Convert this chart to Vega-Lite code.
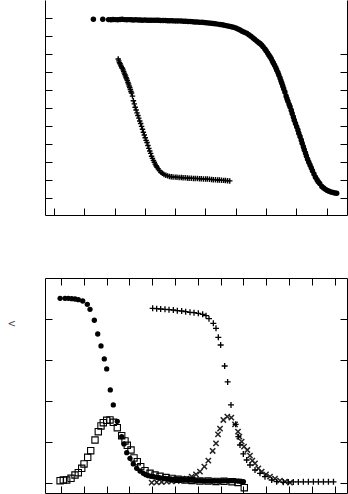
{
"$schema": "https://vega.github.io/schema/vega-lite/v6.json",
"autosize": {"type": "pad"},
"padding": {"left": 7, "top": 0, "right": 0, "bottom": 0},
"bounds": "flush",
"spacing": 63,
"background": "white",
"config": {"view": {"stroke": null}, "axis": {"labels": false, "grid": false, "domainColor": "black", "tickColor": "black", "tickSize": -7, "domainWidth": 1, "tickWidth": 1}},
"datasets": {
"top": [
{"s":"a","x":1.30,"y":0.993},{"s":"a","x":1.61,"y":0.993},{"s":"a","x":1.80,"y":0.991},{"s":"a","x":1.88,"y":0.990},{"s":"a","x":1.95,"y":0.992},{"s":"a","x":2.02,"y":0.991},{"s":"a","x":2.10,"y":0.990},{"s":"a","x":2.18,"y":0.992},{"s":"a","x":2.25,"y":0.993},{"s":"a","x":2.32,"y":0.991},{"s":"a","x":2.40,"y":0.990},{"s":"a","x":2.48,"y":0.991},{"s":"a","x":2.55,"y":0.990},{"s":"a","x":2.62,"y":0.989},{"s":"a","x":2.70,"y":0.990},{"s":"a","x":2.78,"y":0.989},{"s":"a","x":2.85,"y":0.989},{"s":"a","x":2.92,"y":0.988},{"s":"a","x":3.00,"y":0.989},{"s":"a","x":3.08,"y":0.988},{"s":"a","x":3.15,"y":0.988},{"s":"a","x":3.22,"y":0.987},{"s":"a","x":3.30,"y":0.988},{"s":"a","x":3.38,"y":0.987},{"s":"a","x":3.45,"y":0.987},{"s":"a","x":3.52,"y":0.986},{"s":"a","x":3.60,"y":0.986},{"s":"a","x":3.68,"y":0.986},{"s":"a","x":3.75,"y":0.985},{"s":"a","x":3.82,"y":0.985},{"s":"a","x":3.90,"y":0.985},{"s":"a","x":3.98,"y":0.984},{"s":"a","x":4.05,"y":0.984},{"s":"a","x":4.12,"y":0.984},{"s":"a","x":4.20,"y":0.983},{"s":"a","x":4.28,"y":0.982},{"s":"a","x":4.35,"y":0.982},{"s":"a","x":4.42,"y":0.981},{"s":"a","x":4.50,"y":0.980},{"s":"a","x":4.58,"y":0.979},{"s":"a","x":4.65,"y":0.978},{"s":"a","x":4.72,"y":0.978},{"s":"a","x":4.80,"y":0.977},{"s":"a","x":4.88,"y":0.976},{"s":"a","x":4.95,"y":0.975},{"s":"a","x":5.02,"y":0.974},{"s":"a","x":5.10,"y":0.972},{"s":"a","x":5.18,"y":0.971},{"s":"a","x":5.25,"y":0.969},{"s":"a","x":5.32,"y":0.968},{"s":"a","x":5.40,"y":0.966},{"s":"a","x":5.48,"y":0.964},{"s":"a","x":5.55,"y":0.962},{"s":"a","x":5.62,"y":0.960},{"s":"a","x":5.70,"y":0.957},{"s":"a","x":5.78,"y":0.954},{"s":"a","x":5.85,"y":0.951},{"s":"a","x":5.92,"y":0.948},{"s":"a","x":6.00,"y":0.944},{"s":"a","x":6.07,"y":0.939},{"s":"a","x":6.14,"y":0.933},{"s":"a","x":6.21,"y":0.927},{"s":"a","x":6.28,"y":0.921},{"s":"a","x":6.36,"y":0.915},{"s":"a","x":6.43,"y":0.907},{"s":"a","x":6.50,"y":0.898},{"s":"a","x":6.57,"y":0.889},{"s":"a","x":6.63,"y":0.880},{"s":"a","x":6.70,"y":0.871},{"s":"a","x":6.76,"y":0.863},{"s":"a","x":6.80,"y":0.859},{"s":"a","x":6.85,"y":0.850},{"s":"a","x":6.90,"y":0.840},{"s":"a","x":6.96,"y":0.828},{"s":"a","x":7.00,"y":0.818},{"s":"a","x":7.05,"y":0.805},{"s":"a","x":7.09,"y":0.795},{"s":"a","x":7.13,"y":0.785},{"s":"a","x":7.17,"y":0.773},{"s":"a","x":7.21,"y":0.760},{"s":"a","x":7.24,"y":0.750},{"s":"a","x":7.28,"y":0.737},{"s":"a","x":7.32,"y":0.723},{"s":"a","x":7.35,"y":0.711},{"s":"a","x":7.39,"y":0.697},{"s":"a","x":7.42,"y":0.683},{"s":"a","x":7.46,"y":0.667},{"s":"a","x":7.49,"y":0.652},{"s":"a","x":7.52,"y":0.637},{"s":"a","x":7.55,"y":0.622},{"s":"a","x":7.58,"y":0.607},{"s":"a","x":7.62,"y":0.589},{"s":"a","x":7.66,"y":0.567},{"s":"a","x":7.69,"y":0.552},{"s":"a","x":7.72,"y":0.537},{"s":"a","x":7.76,"y":0.519},{"s":"a","x":7.79,"y":0.507},{"s":"a","x":7.83,"y":0.487},{"s":"a","x":7.86,"y":0.470},{"s":"a","x":7.90,"y":0.450},{"s":"a","x":7.93,"y":0.432},{"s":"a","x":7.97,"y":0.414},{"s":"a","x":8.01,"y":0.396},{"s":"a","x":8.05,"y":0.378},{"s":"a","x":8.08,"y":0.360},{"s":"a","x":8.12,"y":0.342},{"s":"a","x":8.16,"y":0.322},{"s":"a","x":8.19,"y":0.304},{"s":"a","x":8.23,"y":0.285},{"s":"a","x":8.26,"y":0.268},{"s":"a","x":8.30,"y":0.250},{"s":"a","x":8.33,"y":0.233},{"s":"a","x":8.37,"y":0.216},{"s":"a","x":8.41,"y":0.199},{"s":"a","x":8.45,"y":0.183},{"s":"a","x":8.49,"y":0.168},{"s":"a","x":8.53,"y":0.152},{"s":"a","x":8.58,"y":0.133},{"s":"a","x":8.63,"y":0.116},{"s":"a","x":8.68,"y":0.102},{"s":"a","x":8.72,"y":0.091},{"s":"a","x":8.77,"y":0.080},{"s":"a","x":8.84,"y":0.064},{"s":"a","x":8.90,"y":0.055},{"s":"a","x":8.96,"y":0.048},{"s":"a","x":9.02,"y":0.042},{"s":"a","x":9.08,"y":0.037},{"s":"a","x":9.14,"y":0.033},{"s":"a","x":9.21,"y":0.030},{"s":"a","x":9.27,"y":0.028},{"s":"a","x":9.33,"y":0.026},
{"s":"b","x":2.12,"y":0.772},{"s":"b","x":2.14,"y":0.762},{"s":"b","x":2.16,"y":0.752},{"s":"b","x":2.18,"y":0.746},{"s":"b","x":2.20,"y":0.738},{"s":"b","x":2.22,"y":0.731},{"s":"b","x":2.24,"y":0.724},{"s":"b","x":2.26,"y":0.720},{"s":"b","x":2.28,"y":0.712},{"s":"b","x":2.30,"y":0.703},{"s":"b","x":2.32,"y":0.694},{"s":"b","x":2.34,"y":0.686},{"s":"b","x":2.36,"y":0.678},{"s":"b","x":2.38,"y":0.668},{"s":"b","x":2.40,"y":0.661},{"s":"b","x":2.42,"y":0.652},{"s":"b","x":2.44,"y":0.642},{"s":"b","x":2.46,"y":0.633},{"s":"b","x":2.48,"y":0.622},{"s":"b","x":2.50,"y":0.614},{"s":"b","x":2.52,"y":0.603},{"s":"b","x":2.54,"y":0.592},{"s":"b","x":2.56,"y":0.583},{"s":"b","x":2.59,"y":0.566},{"s":"b","x":2.62,"y":0.540},{"s":"b","x":2.65,"y":0.523},{"s":"b","x":2.68,"y":0.504},{"s":"b","x":2.71,"y":0.489},{"s":"b","x":2.74,"y":0.473},{"s":"b","x":2.77,"y":0.458},{"s":"b","x":2.80,"y":0.444},{"s":"b","x":2.83,"y":0.428},{"s":"b","x":2.86,"y":0.414},{"s":"b","x":2.89,"y":0.398},{"s":"b","x":2.92,"y":0.382},{"s":"b","x":2.95,"y":0.365},{"s":"b","x":2.98,"y":0.350},{"s":"b","x":3.01,"y":0.335},{"s":"b","x":3.04,"y":0.320},{"s":"b","x":3.07,"y":0.308},{"s":"b","x":3.10,"y":0.292},{"s":"b","x":3.13,"y":0.276},{"s":"b","x":3.16,"y":0.261},{"s":"b","x":3.19,"y":0.248},{"s":"b","x":3.22,"y":0.232},{"s":"b","x":3.25,"y":0.220},{"s":"b","x":3.28,"y":0.209},{"s":"b","x":3.31,"y":0.199},{"s":"b","x":3.34,"y":0.188},{"s":"b","x":3.37,"y":0.179},{"s":"b","x":3.40,"y":0.171},{"s":"b","x":3.44,"y":0.162},{"s":"b","x":3.48,"y":0.152},{"s":"b","x":3.53,"y":0.143},{"s":"b","x":3.58,"y":0.137},{"s":"b","x":3.63,"y":0.131},{"s":"b","x":3.69,"y":0.127},{"s":"b","x":3.75,"y":0.123},{"s":"b","x":3.81,"y":0.120},{"s":"b","x":3.87,"y":0.118},{"s":"b","x":3.93,"y":0.117},{"s":"b","x":4.00,"y":0.116},{"s":"b","x":4.06,"y":0.115},{"s":"b","x":4.13,"y":0.114},{"s":"b","x":4.20,"y":0.114},{"s":"b","x":4.26,"y":0.112},{"s":"b","x":4.33,"y":0.112},{"s":"b","x":4.40,"y":0.111},{"s":"b","x":4.46,"y":0.110},{"s":"b","x":4.53,"y":0.110},{"s":"b","x":4.60,"y":0.109},{"s":"b","x":4.66,"y":0.109},{"s":"b","x":4.73,"y":0.108},{"s":"b","x":4.80,"y":0.107},{"s":"b","x":4.86,"y":0.107},{"s":"b","x":4.93,"y":0.106},{"s":"b","x":5.00,"y":0.106},{"s":"b","x":5.06,"y":0.105},{"s":"b","x":5.13,"y":0.104},{"s":"b","x":5.20,"y":0.103},{"s":"b","x":5.26,"y":0.102},{"s":"b","x":5.33,"y":0.101},{"s":"b","x":5.40,"y":0.100},{"s":"b","x":5.46,"y":0.100},{"s":"b","x":5.53,"y":0.099},{"s":"b","x":5.60,"y":0.098},{"s":"b","x":5.66,"y":0.097},{"s":"b","x":5.73,"y":0.096},{"s":"b","x":5.80,"y":0.095}
],
"bot": [
{"s":"c","x":-0.04,"y":4.512},{"s":"c","x":0.175,"y":4.512},{"s":"c","x":0.32,"y":4.512},{"s":"c","x":0.469,"y":4.502},{"s":"c","x":0.614,"y":4.495},{"s":"c","x":0.759,"y":4.478},{"s":"c","x":0.952,"y":4.446},{"s":"c","x":1.154,"y":4.366},{"s":"c","x":1.272,"y":4.244},{"s":"c","x":1.461,"y":3.976},{"s":"c","x":1.61,"y":3.641},{"s":"c","x":1.754,"y":3.349},{"s":"c","x":1.899,"y":3.032},{"s":"c","x":2.004,"y":2.788},{"s":"c","x":2.162,"y":2.276},{"s":"c","x":2.294,"y":1.91},{"s":"c","x":2.469,"y":1.512},{"s":"c","x":2.662,"y":1.137},{"s":"c","x":2.763,"y":0.959},{"s":"c","x":2.882,"y":0.746},{"s":"c","x":3.026,"y":0.61},{"s":"c","x":3.171,"y":0.471},{"s":"c","x":3.32,"y":0.366},{"s":"c","x":3.465,"y":0.3},{"s":"c","x":3.61,"y":0.244},{"s":"c","x":3.72,"y":0.21},{"s":"c","x":3.83,"y":0.185},{"s":"c","x":3.95,"y":0.172},{"s":"c","x":4.07,"y":0.16},{"s":"c","x":4.2,"y":0.146},{"s":"c","x":4.32,"y":0.138},{"s":"c","x":4.45,"y":0.128},{"s":"c","x":4.57,"y":0.118},{"s":"c","x":4.7,"y":0.112},{"s":"c","x":4.82,"y":0.108},{"s":"c","x":4.95,"y":0.102},{"s":"c","x":5.08,"y":0.098},{"s":"c","x":5.2,"y":0.094},{"s":"c","x":5.33,"y":0.088},{"s":"c","x":5.46,"y":0.083},{"s":"c","x":5.58,"y":0.08},{"s":"c","x":5.71,"y":0.076},{"s":"c","x":5.84,"y":0.072},{"s":"c","x":5.97,"y":0.067},{"s":"c","x":6.1,"y":0.063},{"s":"c","x":6.22,"y":0.06},{"s":"c","x":6.35,"y":0.058},{"s":"c","x":6.48,"y":0.057},{"s":"c","x":6.61,"y":0.056},{"s":"c","x":6.74,"y":0.056},{"s":"c","x":6.87,"y":0.055},{"s":"c","x":7.0,"y":0.056},{"s":"c","x":7.13,"y":0.058},{"s":"c","x":7.26,"y":0.06},{"s":"c","x":7.39,"y":0.062},{"s":"c","x":7.52,"y":0.064},{"s":"c","x":7.65,"y":0.06},{"s":"c","x":7.78,"y":0.052},{"s":"c","x":7.9,"y":0.045},{"s":"c","x":8.0,"y":0.039},
{"s":"q","x":-0.04,"y":0.063},{"s":"q","x":0.101,"y":0.08},{"s":"q","x":0.25,"y":0.08},{"s":"q","x":0.439,"y":0.122},{"s":"q","x":0.614,"y":0.202},{"s":"q","x":0.759,"y":0.259},{"s":"q","x":0.908,"y":0.366},{"s":"q","x":1.009,"y":0.471},{"s":"q","x":1.171,"y":0.634},{"s":"q","x":1.303,"y":0.795},{"s":"q","x":1.491,"y":1.056},{"s":"q","x":1.636,"y":1.259},{"s":"q","x":1.754,"y":1.398},{"s":"q","x":1.855,"y":1.478},{"s":"q","x":2.004,"y":1.537},{"s":"q","x":2.149,"y":1.544},{"s":"q","x":2.294,"y":1.488},{"s":"q","x":2.469,"y":1.356},{"s":"q","x":2.662,"y":1.161},{"s":"q","x":2.807,"y":1.032},{"s":"q","x":2.908,"y":0.927},{"s":"q","x":3.07,"y":0.812},{"s":"q","x":3.202,"y":0.617},{"s":"q","x":3.346,"y":0.527},{"s":"q","x":3.496,"y":0.405},{"s":"q","x":3.684,"y":0.307},{"s":"q","x":3.904,"y":0.244},{"s":"q","x":4.123,"y":0.202},{"s":"q","x":4.342,"y":0.171},{"s":"q","x":4.605,"y":0.141},{"s":"q","x":4.868,"y":0.117},{"s":"q","x":5.132,"y":0.098},{"s":"q","x":5.439,"y":0.08},{"s":"q","x":5.746,"y":0.068},{"s":"q","x":6.096,"y":0.056},{"s":"q","x":6.447,"y":0.056},{"s":"q","x":6.798,"y":0.044},{"s":"q","x":7.149,"y":0.049},{"s":"q","x":7.5,"y":0.039},{"s":"q","x":7.763,"y":0.02},{"s":"q","x":8.039,"y":-0.107},
{"s":"p","x":4.02,"y":4.268},{"s":"p","x":4.196,"y":4.259},{"s":"p","x":4.371,"y":4.251},{"s":"p","x":4.561,"y":4.243},{"s":"p","x":4.737,"y":4.235},{"s":"p","x":4.927,"y":4.227},{"s":"p","x":5.102,"y":4.211},{"s":"p","x":5.292,"y":4.202},{"s":"p","x":5.468,"y":4.186},{"s":"p","x":5.658,"y":4.17},{"s":"p","x":5.833,"y":4.162},{"s":"p","x":6.023,"y":4.146},{"s":"p","x":6.213,"y":4.121},{"s":"p","x":6.36,"y":4.089},{"s":"p","x":6.491,"y":4.015},{"s":"p","x":6.681,"y":3.902},{"s":"p","x":6.798,"y":3.78},{"s":"p","x":6.9,"y":3.56},{"s":"p","x":7.003,"y":3.373},{"s":"p","x":7.178,"y":2.861},{"s":"p","x":7.31,"y":2.471},{"s":"p","x":7.456,"y":1.91},{"s":"p","x":7.661,"y":1.438},{"s":"p","x":7.778,"y":1.137},{"s":"p","x":7.851,"y":0.934},{"s":"p","x":7.997,"y":0.715},{"s":"p","x":8.143,"y":0.568},{"s":"p","x":8.289,"y":0.446},{"s":"p","x":8.509,"y":0.324},{"s":"p","x":8.728,"y":0.243},{"s":"p","x":8.947,"y":0.162},{"s":"p","x":9.24,"y":0.08},{"s":"p","x":9.459,"y":0.04},{"s":"p","x":9.751,"y":0.024},{"s":"p","x":9.97,"y":0.03},{"s":"p","x":10.19,"y":0.032},{"s":"p","x":10.41,"y":0.034},{"s":"p","x":10.63,"y":0.035},{"s":"p","x":10.85,"y":0.035},{"s":"p","x":11.07,"y":0.036},{"s":"p","x":11.29,"y":0.036},{"s":"p","x":11.51,"y":0.036},{"s":"p","x":11.73,"y":0.036},{"s":"p","x":11.95,"y":0.036},
{"s":"m","x":3.977,"y":0.015},{"s":"m","x":4.196,"y":0.024},{"s":"m","x":4.415,"y":0.032},{"s":"m","x":4.635,"y":0.04},{"s":"m","x":4.854,"y":0.048},{"s":"m","x":5.073,"y":0.056},{"s":"m","x":5.292,"y":0.08},{"s":"m","x":5.512,"y":0.113},{"s":"m","x":5.731,"y":0.162},{"s":"m","x":5.921,"y":0.219},{"s":"m","x":6.096,"y":0.284},{"s":"m","x":6.287,"y":0.406},{"s":"m","x":6.462,"y":0.552},{"s":"m","x":6.652,"y":0.788},{"s":"m","x":6.798,"y":0.975},{"s":"m","x":6.886,"y":1.194},{"s":"m","x":6.974,"y":1.332},{"s":"m","x":7.12,"y":1.544},{"s":"m","x":7.295,"y":1.625},{"s":"m","x":7.471,"y":1.601},{"s":"m","x":7.632,"y":1.438},{"s":"m","x":7.763,"y":1.259},{"s":"m","x":7.822,"y":1.137},{"s":"m","x":7.924,"y":1.015},{"s":"m","x":8.026,"y":0.893},{"s":"m","x":8.173,"y":0.812},{"s":"m","x":8.289,"y":0.674},{"s":"m","x":8.392,"y":0.552},{"s":"m","x":8.509,"y":0.487},{"s":"m","x":8.655,"y":0.365},{"s":"m","x":8.801,"y":0.284},{"s":"m","x":8.991,"y":0.219},{"s":"m","x":9.167,"y":0.162},{"s":"m","x":9.386,"y":0.113},{"s":"m","x":9.605,"y":0.064},{"s":"m","x":9.825,"y":0.04},{"s":"m","x":10.044,"y":0.015}
]
},
"vconcat": [
{
"width": 302, "height": 215,
"data": {"name": "top"},
"layer": [
{"transform": [{"filter": "datum.s == 'a'"}],
 "mark": {"type": "point", "shape": "circle", "filled": true, "size": 30, "color": "black", "opacity": 1},
 "encoding": {
  "x": {"field": "x", "type": "quantitative", "scale": {"domain": [-0.297, 9.67], "nice": false, "zero": false}, "axis": {"orient": "bottom", "values": [0,1,2,3,4,5,6,7,8,9], "title": null}},
  "y": {"field": "y", "type": "quantitative", "scale": {"domain": [-0.0944, 1.1], "nice": false, "zero": false}, "axis": {"orient": "left", "values": [0,0.1,0.2,0.3,0.4,0.5,0.6,0.7,0.8,0.9,1.0], "title": null}}
 }},
{"transform": [{"filter": "datum.s == 'b'"}],
 "mark": {"type": "point", "shape": "M-1,0H1M0,-1V1", "filled": false, "size": 30, "strokeWidth": 1.4, "color": "black", "opacity": 1},
 "encoding": {
  "x": {"field": "x", "type": "quantitative", "axis": null},
  "y": {"field": "y", "type": "quantitative", "axis": {"orient": "right", "values": [0,0.1,0.2,0.3,0.4,0.5,0.6,0.7,0.8], "title": null}}
 }}
],
"resolve": {"axis": {"x": "independent", "y": "independent"}}
},
{
"width": 302, "height": 215,
"data": {"name": "bot"},
"layer": [
{"transform": [{"filter": "datum.s == 'm'"}],
 "mark": {"type": "point", "shape": "M-1,-1L1,1M-1,1L1,-1", "filled": false, "size": 28, "strokeWidth": 1.5, "color": "#222", "opacity": 1},
 "encoding": {
  "x": {"field": "x", "type": "quantitative", "scale": {"domain": [-0.702, 12.544], "nice": false, "zero": false}, "axis": {"orient": "bottom", "values": [0,1,2,3,4,5,6,7,8,9,10,11,12], "title": null}},
  "y": {"field": "y", "type": "quantitative", "scale": {"domain": [-0.237, 5.007], "nice": false, "zero": false}, "axis": {"orient": "left", "values": [0,1,2,3,4], "title": "<", "titleAngle": 0, "titleX": -38, "titleY": 45, "titleFontSize": 10, "titleFontWeight": "normal", "titleColor": "#444", "titleAlign": "left", "titleBaseline": "middle", "titleFont": "DejaVu Sans"}}
 }},
{"transform": [{"filter": "datum.s == 'p'"}],
 "mark": {"type": "point", "shape": "M-1,0H1M0,-1V1", "filled": false, "size": 36, "strokeWidth": 1.3, "color": "black", "opacity": 1},
 "encoding": {
  "x": {"field": "x", "type": "quantitative", "axis": {"orient": "top", "values": [0,1,2,3,4,5,6,7,8,9,10,11,12], "title": null}},
  "y": {"field": "y", "type": "quantitative", "axis": {"orient": "right", "values": [0,1,2,3,4], "title": null}}
 }},
{"transform": [{"filter": "datum.s == 'c'"}],
 "mark": {"type": "point", "shape": "circle", "filled": true, "size": 28, "color": "black", "opacity": 1},
 "encoding": {
  "x": {"field": "x", "type": "quantitative", "axis": null},
  "y": {"field": "y", "type": "quantitative", "axis": null}
 }},
{"transform": [{"filter": "datum.s == 'q'"}],
 "mark": {"type": "point", "shape": "square", "filled": false, "size": 40, "strokeWidth": 1.1, "color": "black", "opacity": 1},
 "encoding": {
  "x": {"field": "x", "type": "quantitative", "axis": null},
  "y": {"field": "y", "type": "quantitative", "axis": null}
 }}
],
"resolve": {"axis": {"x": "independent", "y": "independent"}}
}
]
}
